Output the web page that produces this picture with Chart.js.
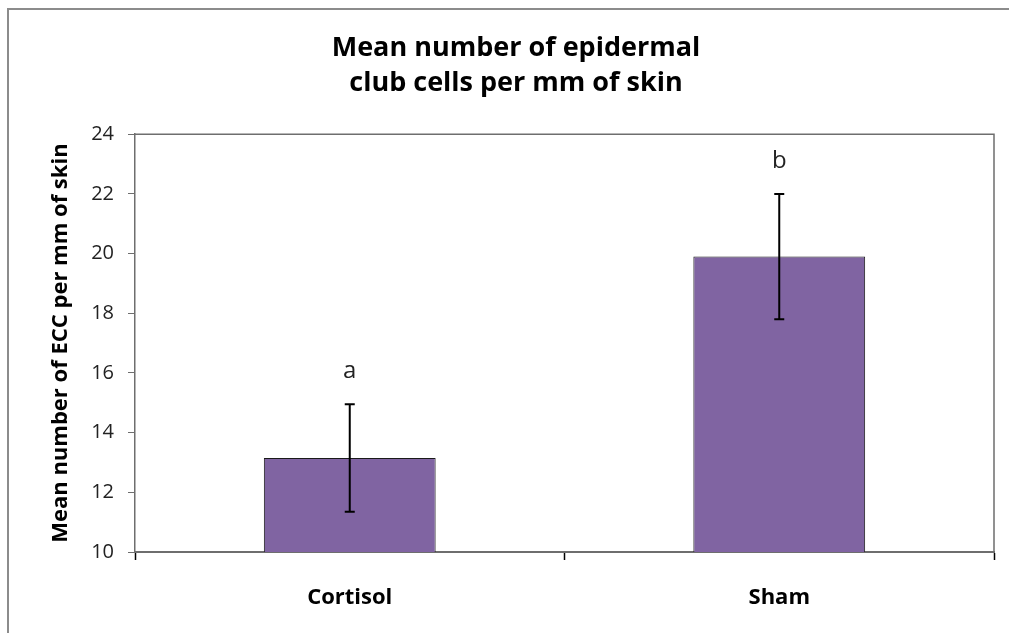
<!DOCTYPE html>
<html>
<head>
<meta charset="utf-8">
<script src="https://cdn.jsdelivr.net/npm/chart.js@4.4.0/dist/chart.umd.min.js"></script>
<style>
  body { margin: 0; background: #fff; }
  #wrap { width: 1009px; height: 633px; position: relative; }
</style>
</head>
<body>
<div id="wrap"><canvas id="canvas"></canvas></div>
<script>
// data
var groups = ["Cortisol", "Sham"];
var means = [13.15, 19.9];
var errors = [1.8, 2.1];
var letters = ["a", "b"];
var yTicks = [10, 12, 14, 16, 18, 20, 22, 24];

var fontName = "'Open Sans', sans-serif";
var axisGray = "#6e6e6e";

// outer frame, plot frame, error bars and the a/b letters
var extras = {
    id: "extras",
    afterLayout: function (chart) {
        // the original frame runs past the right edge, so its title sits a bit right of centre
        var t = chart.titleBlock;
        if (t) {
            t.left += 19;
            t.right += 19;
        }
    },
    beforeDraw: function (chart) {
        var ctx = chart.ctx;
        ctx.save();
        ctx.fillStyle = "#fff";
        ctx.fillRect(0, 0, chart.width, chart.height);
        ctx.strokeStyle = "#8c8c8c";
        ctx.lineWidth = 2;
        ctx.beginPath();
        ctx.moveTo(8, chart.height);
        ctx.lineTo(8, 9);
        ctx.lineTo(chart.width, 9);
        ctx.stroke();
        ctx.restore();
    },
    afterDatasetsDraw: function (chart) {
        var ctx = chart.ctx;
        var area = chart.chartArea;
        var y = chart.scales.y;
        ctx.save();
        // top and right edge of plot area
        ctx.strokeStyle = axisGray;
        ctx.lineWidth = 1.5;
        ctx.beginPath();
        ctx.moveTo(area.left, area.top);
        ctx.lineTo(area.right, area.top);
        ctx.lineTo(area.right, area.bottom);
        ctx.stroke();

        var meta = chart.getDatasetMeta(0);
        for (let i = 0; i < means.length; i++) {
            let cx = meta.data[i].x;
            let hi = y.getPixelForValue(means[i] + errors[i]);
            let lo = y.getPixelForValue(means[i] - errors[i]);
            ctx.strokeStyle = "#000";
            ctx.lineWidth = 2;
            ctx.beginPath();
            ctx.moveTo(cx, hi);
            ctx.lineTo(cx, lo);
            ctx.moveTo(cx - 5, hi);
            ctx.lineTo(cx + 5, hi);
            ctx.moveTo(cx - 5, lo);
            ctx.lineTo(cx + 5, lo);
            ctx.stroke();

            ctx.fillStyle = "#222";
            ctx.font = "24px " + fontName;
            ctx.textAlign = "center";
            ctx.textBaseline = "middle";
            ctx.fillText(letters[i], cx, hi - 33);
        }
        ctx.restore();
    }
};

var ctx = document.getElementById("canvas").getContext("2d");
var myChart = new Chart(ctx, {
    type: "bar",
    data: {
        labels: groups,
        datasets: [{
            data: means,
            backgroundColor: "#8064A2",
            borderColor: "#1a1a1a",
            borderWidth: 1,
            borderSkipped: false,
            barPercentage: 0.4,
            categoryPercentage: 1.0
        }]
    },
    options: {
        responsive: true,
        maintainAspectRatio: false,
        animation: false,
        events: [],
        layout: { padding: { top: 0, right: 15, bottom: 0, left: 0 } },
        plugins: {
            legend: { display: false },
            tooltip: { enabled: false },
            title: {
                display: true,
                text: ["Mean number of epidermal", "club cells per mm of skin"],
                color: "#000",
                font: { family: fontName, size: 27, weight: "bold", lineHeight: 1.3 },
                padding: { top: 31, bottom: 33 }
            }
        },
        scales: {
            x: {
                grid: {
                    offset: true,
                    drawOnChartArea: false,
                    drawTicks: true,
                    tickLength: 8,
                    color: "#000",
                    tickWidth: 1.5
                },
                border: { color: axisGray, width: 2 },
                ticks: {
                    color: "#000",
                    padding: 25,
                    font: { family: fontName, size: 22, weight: "bold" }
                },
                afterFit: function (scale) { scale.height = 81; }
            },
            y: {
                min: 10,
                max: 24,
                afterBuildTicks: function (scale) {
                    scale.ticks = yTicks.map(function (v) { return { value: v }; });
                },
                grid: {
                    drawOnChartArea: false,
                    drawTicks: true,
                    tickLength: 7,
                    color: axisGray
                },
                border: { color: axisGray, width: 1.5 },
                ticks: {
                    color: "#222",
                    padding: 14,
                    font: { family: fontName, size: 20 }
                },
                title: {
                    display: true,
                    text: "Mean number of ECC per mm of skin",
                    color: "#000",
                    font: { family: fontName, size: 22, weight: "bold" },
                    padding: { top: 48, bottom: 0 }
                },
                afterFit: function (scale) { scale.width = 135; }
            }
        }
    },
    plugins: [extras]
});
</script>
</body>
</html>
